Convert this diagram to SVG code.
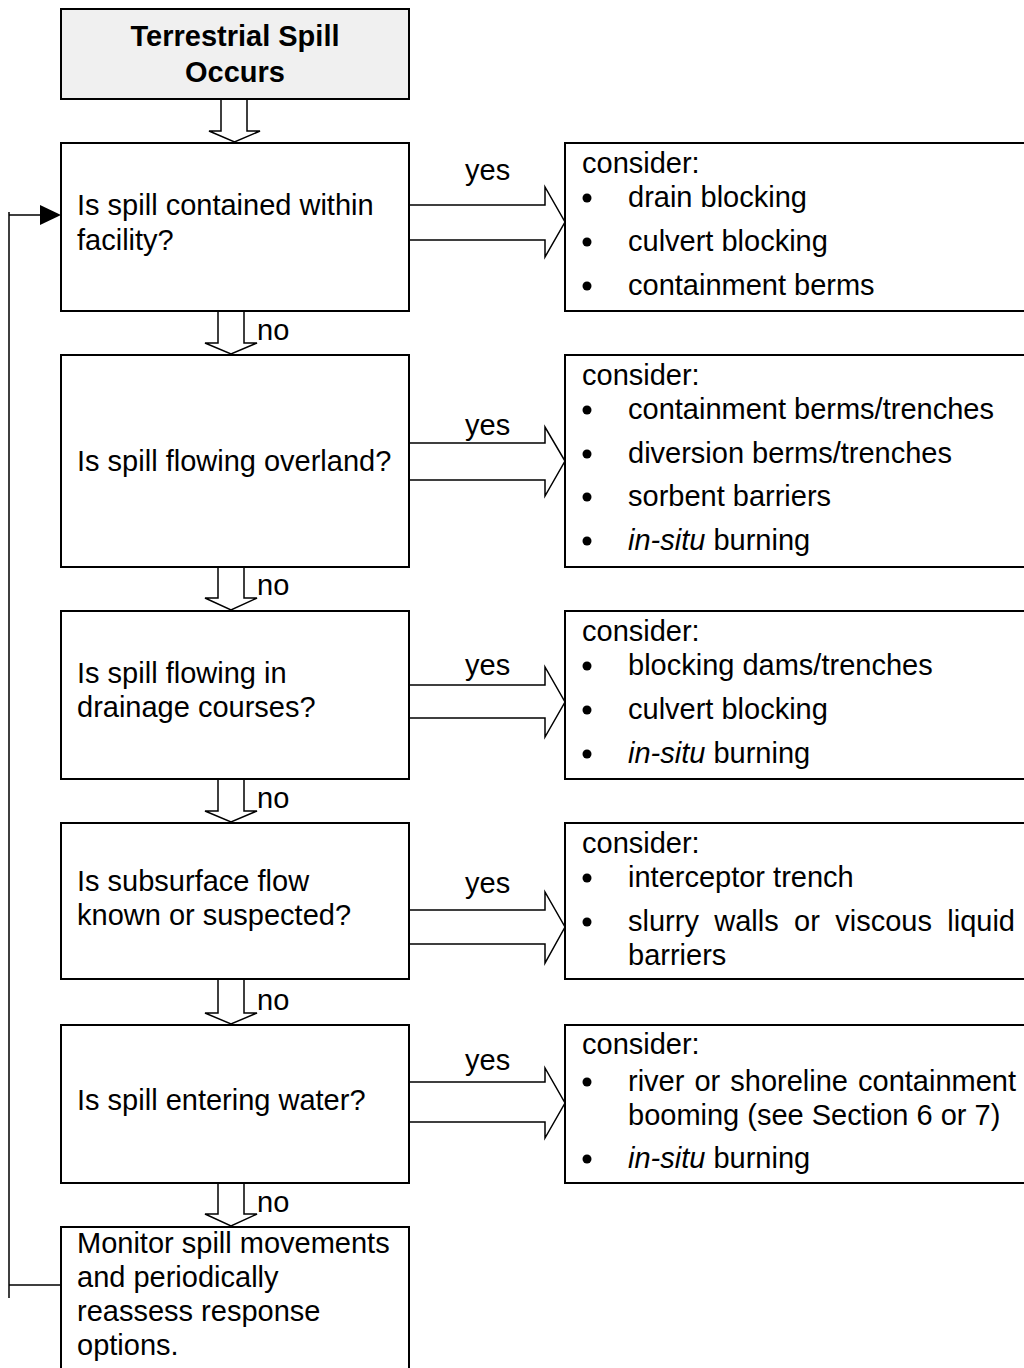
<svg xmlns="http://www.w3.org/2000/svg" width="1024" height="1368" viewBox="0 0 1024 1368">
<style>
  .box { fill: #ffffff; stroke: #000; stroke-width: 2; }
  .title { fill: #f0f0f0; stroke: #000; stroke-width: 2; }
  .arrow { fill: #ffffff; stroke: #000; stroke-width: 1.5; stroke-linejoin: miter; }
  .line { fill: none; stroke: #000; stroke-width: 1.5; }
  .t { font-family: "Liberation Sans", Arial, sans-serif; font-size: 29px; fill: #000; }
  .b { font-weight: bold; text-anchor: middle; }
  .i { font-style: italic; }
  .dot { fill: #000; }
</style>
<rect width="1024" height="1368" fill="#ffffff"/>

<g id="connectors">
  <path class="arrow" d="M221,99 L247,99 L247,131 L260,131 L234.5,142 L209,131 L221,131 Z"/>
  <path class="arrow" d="M218,311 L244,311 L244,343 L257,343 L231,354 L205,343 L218,343 Z"/>
  <path class="arrow" d="M218,567 L244,567 L244,598 L257,598 L231,610 L205,598 L218,598 Z"/>
  <path class="arrow" d="M218,779 L244,779 L244,811 L257,811 L231,822 L205,811 L218,811 Z"/>
  <path class="arrow" d="M218,979 L244,979 L244,1013 L257,1013 L231,1024 L205,1013 L218,1013 Z"/>
  <path class="arrow" d="M218,1183 L244,1183 L244,1214 L257,1214 L231,1226 L205,1214 L218,1214 Z"/>
  <text class="t" x="257" y="340">no</text>
  <text class="t" x="257" y="595">no</text>
  <text class="t" x="257" y="808">no</text>
  <text class="t" x="257" y="1010">no</text>
  <text class="t" x="257" y="1212">no</text>

  <path class="arrow" d="M409,205 L545,205 L545,187 L565,222 L545,257 L545,240 L409,240 Z"/>
  <path class="arrow" d="M409,443 L545,443 L545,427 L565,461 L545,496 L545,480 L409,480 Z"/>
  <path class="arrow" d="M409,685 L545,685 L545,667 L565,702 L545,737 L545,718 L409,718 Z"/>
  <path class="arrow" d="M409,910 L545,910 L545,892 L565,927 L545,963 L545,944 L409,944 Z"/>
  <path class="arrow" d="M409,1082 L545,1082 L545,1068 L565,1103 L545,1138 L545,1122 L409,1122 Z"/>
  <text class="t" x="465" y="180">yes</text>
  <text class="t" x="465" y="435">yes</text>
  <text class="t" x="465" y="675">yes</text>
  <text class="t" x="465" y="893">yes</text>
  <text class="t" x="465" y="1070">yes</text>

  <path class="line" d="M9,212 L9,1298 M9,1285 L61,1285 M9,215 L41,215"/>
  <polygon points="40,205 61,215 40,225" fill="#000"/>
</g>

<g id="start">
  <rect class="title" x="61" y="9" width="348" height="90"/>
  <text class="t b" x="235" y="46">Terrestrial Spill</text>
  <text class="t b" x="235" y="82">Occurs</text>
</g>

<g id="q1">
  <rect class="box" x="61" y="143" width="348" height="168"/>
  <text class="t" x="77" y="215">Is spill contained within</text>
  <text class="t" x="77" y="250">facility?</text>
</g>
<g id="a1">
  <rect class="box" x="565" y="143" width="480" height="168"/>
  <text class="t" x="582" y="173">consider:</text>
  <circle class="dot" cx="587" cy="198" r="4.5"/>
  <text class="t" x="628" y="207">drain blocking</text>
  <circle class="dot" cx="587" cy="242" r="4.5"/>
  <text class="t" x="628" y="251">culvert blocking</text>
  <circle class="dot" cx="587" cy="286" r="4.5"/>
  <text class="t" x="628" y="295">containment berms</text>
</g>

<g id="q2">
  <rect class="box" x="61" y="355" width="348" height="212"/>
  <text class="t" x="77" y="471">Is spill flowing overland?</text>
</g>
<g id="a2">
  <rect class="box" x="565" y="355" width="480" height="212"/>
  <text class="t" x="582" y="385">consider:</text>
  <circle class="dot" cx="587" cy="410" r="4.5"/>
  <text class="t" x="628" y="419">containment berms/trenches</text>
  <circle class="dot" cx="587" cy="454" r="4.5"/>
  <text class="t" x="628" y="463">diversion berms/trenches</text>
  <circle class="dot" cx="587" cy="497" r="4.5"/>
  <text class="t" x="628" y="506">sorbent barriers</text>
  <circle class="dot" cx="587" cy="541" r="4.5"/>
  <text class="t" x="628" y="550"><tspan class="i">in-situ</tspan> burning</text>
</g>

<g id="q3">
  <rect class="box" x="61" y="611" width="348" height="168"/>
  <text class="t" x="77" y="683">Is spill flowing in</text>
  <text class="t" x="77" y="717">drainage courses?</text>
</g>
<g id="a3">
  <rect class="box" x="565" y="611" width="480" height="168"/>
  <text class="t" x="582" y="641">consider:</text>
  <circle class="dot" cx="587" cy="666" r="4.5"/>
  <text class="t" x="628" y="675">blocking dams/trenches</text>
  <circle class="dot" cx="587" cy="710" r="4.5"/>
  <text class="t" x="628" y="719">culvert blocking</text>
  <circle class="dot" cx="587" cy="754" r="4.5"/>
  <text class="t" x="628" y="763"><tspan class="i">in-situ</tspan> burning</text>
</g>

<g id="q4">
  <rect class="box" x="61" y="823" width="348" height="156"/>
  <text class="t" x="77" y="891">Is subsurface flow</text>
  <text class="t" x="77" y="925">known or suspected?</text>
</g>
<g id="a4">
  <rect class="box" x="565" y="823" width="480" height="156"/>
  <text class="t" x="582" y="853">consider:</text>
  <circle class="dot" cx="587" cy="878" r="4.5"/>
  <text class="t" x="628" y="887">interceptor trench</text>
  <circle class="dot" cx="587" cy="922" r="4.5"/>
  <text class="t" x="628" y="931" word-spacing="7.3">slurry walls or viscous liquid</text>
  <text class="t" x="628" y="965">barriers</text>
</g>

<g id="q5">
  <rect class="box" x="61" y="1025" width="348" height="158"/>
  <text class="t" x="77" y="1110">Is spill entering water?</text>
</g>
<g id="a5">
  <rect class="box" x="565" y="1025" width="480" height="158"/>
  <text class="t" x="582" y="1054">consider:</text>
  <circle class="dot" cx="587" cy="1082" r="4.5"/>
  <text class="t" x="628" y="1091" word-spacing="2">river or shoreline containment</text>
  <text class="t" x="628" y="1125">booming (see Section 6 or 7)</text>
  <circle class="dot" cx="587" cy="1159" r="4.5"/>
  <text class="t" x="628" y="1168"><tspan class="i">in-situ</tspan> burning</text>
</g>

<g id="monitor">
  <rect class="box" x="61" y="1227" width="348" height="200"/>
  <text class="t" x="77" y="1253">Monitor spill movements</text>
  <text class="t" x="77" y="1287">and periodically</text>
  <text class="t" x="77" y="1321">reassess response</text>
  <text class="t" x="77" y="1355">options.</text>
</g>
</svg>
